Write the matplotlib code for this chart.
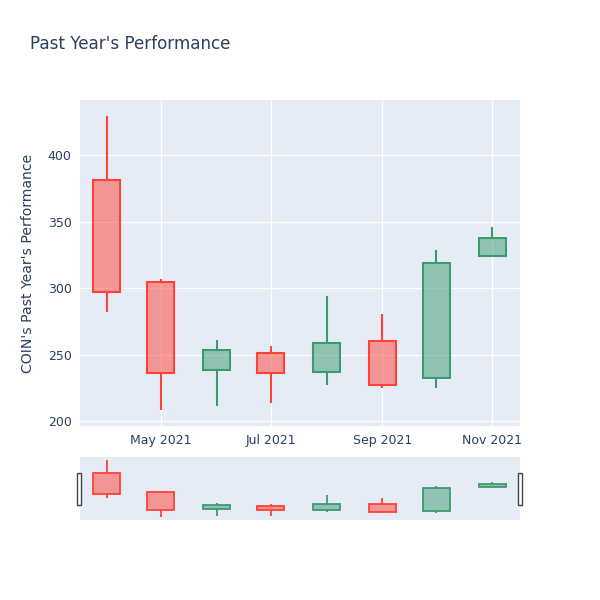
import matplotlib
matplotlib.use("Agg")
import matplotlib.pyplot as plt
import matplotlib.dates as mdates
from matplotlib.patches import Rectangle
import numpy as np
import pandas as pd

# monthly candles
months = ["2021-04-01", "2021-05-01", "2021-06-01", "2021-07-01",
          "2021-08-01", "2021-09-01", "2021-10-01", "2021-11-01"]
opens = [381.2, 304.5, 238.5, 251.0, 237.2, 260.6, 232.9, 324.6]
highs = [429.4, 306.8, 261.3, 256.8, 294.0, 280.7, 328.4, 345.7]
lows = [282.4, 208.3, 211.4, 213.6, 227.2, 225.4, 224.9, 323.9]
closes = [297.5, 236.7, 253.6, 236.7, 258.8, 227.4, 319.1, 337.7]

xtick_dates = ["2021-05-01", "2021-07-01", "2021-09-01", "2021-11-01"]
xtick_labels = ["May 2021", "Jul 2021", "Sep 2021", "Nov 2021"]
yticks = [200, 250, 300, 350, 400]

UP = "#3D9970"
DOWN = "#FF4136"
BG = "#E5ECF6"
TXT = "#2a3f5f"

dates = pd.to_datetime(months)
x = mdates.date2num(dates)
xmin = mdates.date2num(pd.Timestamp("2021-03-17 00:00"))
xmax = mdates.date2num(pd.Timestamp("2021-11-16 12:00"))
ymin, ymax = 196.5, 441.5


def candles(ax, lw):
  body_w = 15.0
  for xi, o, h, l, c in zip(x, opens, highs, lows, closes):
    col = UP if c >= o else DOWN
    top, bot = max(o, c), min(o, c)
    ax.vlines(xi, top, h, color=col, lw=lw, zorder=3)
    ax.vlines(xi, l, bot, color=col, lw=lw, zorder=3)
    ax.add_patch(Rectangle((xi - body_w / 2, bot), body_w, top - bot,
                           facecolor=col, alpha=0.5, edgecolor="none", zorder=3))
    ax.add_patch(Rectangle((xi - body_w / 2, bot), body_w, top - bot,
                           facecolor="none", edgecolor=col, lw=lw, zorder=4))


fig = plt.figure(figsize=(6, 6), dpi=100)

ax = fig.add_axes([80 / 600, 1 - 426 / 600, 440 / 600, 326 / 600])
ax.set_facecolor(BG)
for s in ax.spines.values():
  s.set_visible(False)
candles(ax, 1.5)
ax.set_xlim(xmin, xmax)
ax.set_ylim(ymin, ymax)
ax.set_xticks(mdates.date2num(pd.to_datetime(xtick_dates)))
ax.set_xticklabels(xtick_labels)
ax.set_yticks(yticks)
ax.tick_params(length=0, labelsize=9, labelcolor=TXT, pad=6)
ax.grid(True, color="white", lw=1)
ax.set_axisbelow(True)

fig.text(28 / 600, 1 - 263 / 600, "COIN's Past Year's Performance", rotation=90,
         ha="center", va="center", fontsize=10.1, color=TXT)
fig.text(30 / 600, 1 - 44 / 600, "Past Year's Performance", ha="left", va="center",
         fontsize=12.1, color=TXT)

# range slider
rs = fig.add_axes([80 / 600, 1 - 520 / 600, 440 / 600, 63 / 600])
rs.set_facecolor(BG)
for s in rs.spines.values():
  s.set_visible(False)
candles(rs, 1.3)
rs.set_xlim(xmin, xmax)
rs.set_ylim(ymin, ymax)
rs.set_xticks([])
rs.set_yticks([])

for hx in (77, 518):
  fig.patches.append(Rectangle((hx / 600, 1 - 505 / 600), 4 / 600, 32 / 600,
                               transform=fig.transFigure, facecolor="white",
                               edgecolor="#444444", lw=1, zorder=5))

fig.savefig("out.png", dpi=100)
